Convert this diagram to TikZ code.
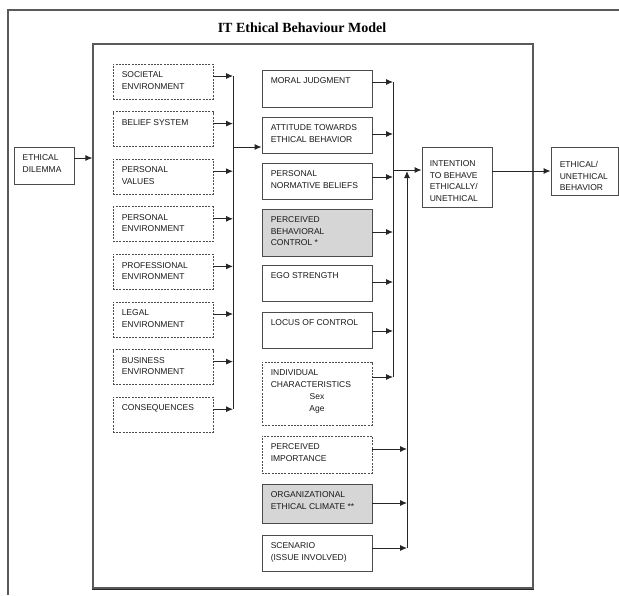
\documentclass[tikz,border=0pt]{standalone}
\usepackage{fontspec}
\setmainfont{Liberation Sans}
\newfontfamily\titlefont{Liberation Serif}
\usetikzlibrary{arrows.meta}
\begin{document}
\begin{tikzpicture}[x=1pt,y=-1pt,
  font=\fontsize{8.5}{11.5}\selectfont,
  sbox/.style={draw=black!70, line width=0.9pt, inner sep=0pt},
  dbox/.style={draw=black!70, line width=0.9pt, dash pattern=on 2pt off 1.2pt, inner sep=0pt},
  gbox/.style={sbox, fill=black!16},
  lw/.style={minimum width=100pt, minimum height=35pt},
  mw/.style={minimum width=110pt, minimum height=#1},
  mw/.default=36pt,
  txt/.style={anchor=north west, inner sep=0pt, align=left, xshift=9pt, yshift=-8pt, text=black!90},
  arr/.style={draw=black!85, line width=0.9pt, -{Latex[length=7pt,width=6pt]}},
  ln/.style={draw=black!85, line width=0.9pt}]
\useasboundingbox (0,0) rectangle (619,595);
% frames
\draw[line width=1.2pt, draw=black!65] (8,595) -- (8,10) -- (619,10);
\node[font=\titlefont\bfseries\fontsize{14}{16}\selectfont] (title) at (302,28) {IT Ethical Behaviour Model};
\node[draw=black!65, line width=1.2pt, minimum width=440pt, minimum height=544pt, inner sep=0pt] (frame) at (313,316) {};
\draw[line width=1.4pt, black!85] ([yshift=-1pt]frame.south west) -- ([yshift=-1pt]frame.south east);

% left outside
\node[sbox, minimum width=60pt, minimum height=37pt] (dil) at (44,165.5) {};
\node[txt] (dilT) at (dil.north west) {ETHICAL\\DILEMMA};
\draw[arr] (dil.east |- 0,158) -- (frame.west |- 0,158);

% left column
\node[dbox, lw] (soc) at (163,81.5) {};
\node[txt] (socT) at (soc.north west) {SOCIETAL\\ENVIRONMENT};
\node[dbox, lw] (bel) at (163,129.1) {};
\node[txt] (belT) at (bel.north west) {BELIEF SYSTEM};
\node[dbox, lw] (pv) at (163,176.7) {};
\node[txt] (pvT) at (pv.north west) {PERSONAL\\VALUES};
\node[dbox, lw] (pe) at (163,224.3) {};
\node[txt] (peT) at (pe.north west) {PERSONAL\\ENVIRONMENT};
\node[dbox, lw] (prof) at (163,271.9) {};
\node[txt] (profT) at (prof.north west) {PROFESSIONAL\\ENVIRONMENT};
\node[dbox, lw] (leg) at (163,319.5) {};
\node[txt] (legT) at (leg.north west) {LEGAL\\ENVIRONMENT};
\node[dbox, lw] (bus) at (163,367.1) {};
\node[txt] (busT) at (bus.north west) {BUSINESS\\ENVIRONMENT};
\node[dbox, lw] (cons) at (163,414.7) {};
\node[txt] (consT) at (cons.north west) {CONSEQUENCES};

\coordinate (bl) at (233,0);
\foreach \n in {soc,bel,pv,pe,prof,leg,bus,cons}
  \draw[arr] ([yshift=5.5pt]\n.east) -- ([yshift=5.5pt]\n.east -| bl);
\draw[ln] ([yshift=5.5pt]soc.east -| bl) -- ([yshift=5.5pt]cons.east -| bl);

% middle column
\node[sbox, mw=37pt] (mj) at (317,88.5) {};
\node[txt] (mjT) at (mj.north west) {MORAL JUDGMENT};
\node[sbox, mw] (att) at (317,135) {};
\node[txt] (attT) at (att.north west) {ATTITUDE TOWARDS\\ETHICAL BEHAVIOR};
\node[sbox, mw] (pnb) at (317,181) {};
\node[txt] (pnbT) at (pnb.north west) {PERSONAL\\NORMATIVE BELIEFS};
\node[gbox, mw=47pt] (pbc) at (317,232.5) {};
\node[txt] (pbcT) at (pbc.north west) {PERCEIVED\\BEHAVIORAL\\CONTROL *};
\node[sbox, mw] (ego) at (317,283) {};
\node[txt] (egoT) at (ego.north west) {EGO STRENGTH};
\node[sbox, mw] (loc) at (317,330) {};
\node[txt] (locT) at (loc.north west) {LOCUS OF CONTROL};
\node[dbox, mw=63pt] (ind) at (317,393.5) {};
\node[txt] (indT) at (ind.north west) {INDIVIDUAL\\CHARACTERISTICS};
\node[inner sep=0pt, align=center, anchor=north, text=black!90] (indS) at ([xshift=0pt,yshift=-32pt]ind.north) {Sex\\Age};
\node[dbox, mw=37pt] (pi) at (317,454.5) {};
\node[txt] (piT) at (pi.north west) {PERCEIVED\\IMPORTANCE};
\node[gbox, mw=39pt] (oec) at (317,503.5) {};
\node[txt] (oecT) at (oec.north west) {ORGANIZATIONAL\\ETHICAL CLIMATE **};
\node[sbox, mw] (scen) at (317,553) {};
\node[txt] (scenT) at (scen.north west) {SCENARIO\\(ISSUE INVOLVED)};

% left bus to middle
\coordinate (j1) at (233,147);
\draw[arr] (j1) -- (att.west |- j1);

% bus 1
\coordinate (b1) at (393,0);
\draw[arr] (mj.east |- 0,82) -- (b1 |- 0,82);
\draw[arr] (att.east |- 0,134) -- (b1 |- 0,134);
\draw[arr] (pnb.east |- 0,177) -- (b1 |- 0,177);
\draw[arr] (pbc.east |- 0,232) -- (b1 |- 0,232);
\draw[arr] (ego.east |- 0,282) -- (b1 |- 0,282);
\draw[arr] (loc.east |- 0,331) -- (b1 |- 0,331);
\draw[arr] (ind.east |- 0,377) -- (b1 |- 0,377);
\draw[ln] (b1 |- 0,82) -- (b1 |- 0,377);

% bus 2
\coordinate (b2) at (407,0);
\draw[arr] (pi.east |- 0,449) -- (b2 |- 0,449);
\draw[arr] (oec.east |- 0,503) -- (b2 |- 0,503);
\draw[arr] (scen.east |- 0,548) -- (b2 |- 0,548);
\draw[arr] (b2 |- 0,548) -- (b2 |- 0,171);

% intention and behaviour
\node[sbox, minimum width=70pt, minimum height=60pt] (int) at (457,177) {};
\node[txt, xshift=-1pt, yshift=-6pt] (intT) at (int.north west) {INTENTION\\TO BEHAVE\\ETHICALLY/\\UNETHICAL};
\draw[arr] (b1 |- 0,170) -- (int.west |- 0,170);
\node[sbox, minimum width=67pt, minimum height=48pt] (eth) at (584.5,171) {};
\node[txt, yshift=-7pt] (ethT) at (eth.north west) {ETHICAL/\\UNETHICAL\\BEHAVIOR};
\draw[arr] (int.east |- 0,171) -- (eth.west |- 0,171);
\end{tikzpicture}
\end{document}
